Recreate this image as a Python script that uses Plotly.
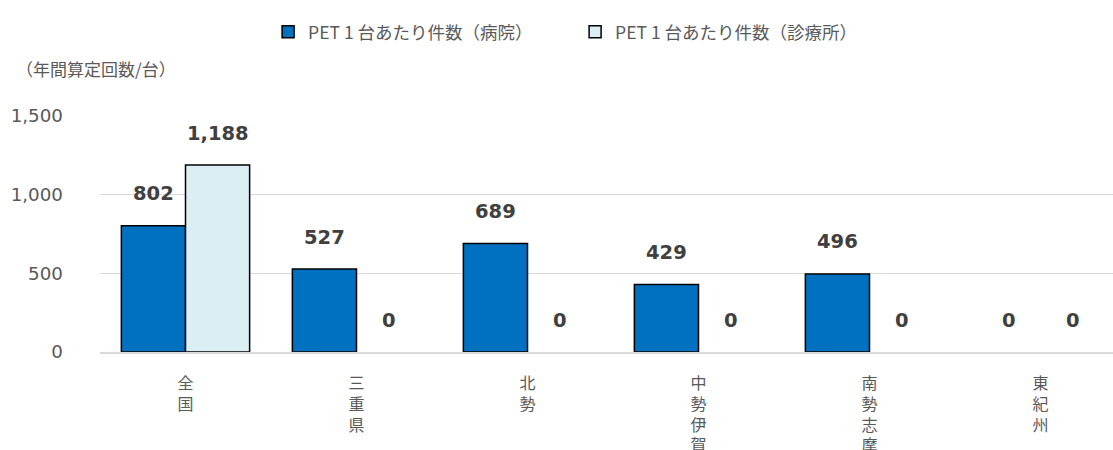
import plotly.graph_objects as go

categories = ["全国", "三重県", "北勢", "中勢伊賀", "南勢志摩", "東紀州"]
hospital = [802, 527, 689, 429, 496, 0]
clinic = [1188, 0, 0, 0, 0, 0]
series_names = ["PET 1 台あたり件数（病院）", "PET 1 台あたり件数（診療所）"]
y_ticks = [0, 500, 1000, 1500]
y_title = "（年間算定回数/台）"

jp_font = "Noto Sans CJK JP"
num_font = "DejaVu Sans"
tick_labels = ["<br>".join(list(c)) for c in categories]

fig = go.Figure()
for vals, name, color in ((hospital, series_names[0], "#0070C0"),
                          (clinic, series_names[1], "#DAEEF3")):
    fig.add_trace(go.Bar(x=categories, y=vals, name=name,
                         marker=dict(color=color,
                                     line=dict(color="#000000",
                                               width=[1.5 if v > 0 else 0 for v in vals]))))

for vals, shift in ((hospital, -32), (clinic, 32)):
    for c, v in zip(categories, vals):
        fig.add_annotation(x=c, y=v, xref="x", yref="y", text=f"<b>{v:,}</b>",
                           showarrow=False, xshift=shift, yshift=32,
                           yanchor="middle",
                           font=dict(family=num_font, size=19.5, color="#404040"))

fig.add_annotation(x=-0.085, y=1.203, xref="paper", yref="paper", text=y_title,
                   showarrow=False, xanchor="left", yanchor="middle",
                   font=dict(family=jp_font, size=17, color="#595959"))

fig.update_layout(
    width=1113, height=450,
    margin=dict(l=100, r=0, t=116, b=98, autoexpand=False),
    plot_bgcolor="white", paper_bgcolor="white",
    barmode="group", bargap=0.25, bargroupgap=0,
    legend=dict(orientation="h", x=0.469, xanchor="center", y=1.356, yanchor="middle",
                font=dict(family=jp_font, size=17.5, color="#595959"),
                itemwidth=30, entrywidth=262, traceorder="normal"),
    xaxis=dict(type="category", range=[-0.5, 5.424], tickvals=categories,
               ticktext=tick_labels, tickangle=0, automargin=False,
               showline=True, linecolor="#d9d9d9", linewidth=1.5,
               ticks="", ticklabelstandoff=16,
               tickfont=dict(family=jp_font, size=16, color="#595959")),
    yaxis=dict(range=[0, 1500], tickvals=y_ticks, tickformat=",", automargin=False,
               showgrid=True, gridcolor="#d9d9d9", gridwidth=1.2,
               zeroline=False, showline=False, ticks="",
               ticklabelstandoff=36,
               tickfont=dict(family=num_font, size=18.3, color="#595959")),
    font=dict(family=jp_font),
)

fig.write_html("out.html", config={"displayModeBar": False},
               post_script="document.body.style.margin='0px';")
